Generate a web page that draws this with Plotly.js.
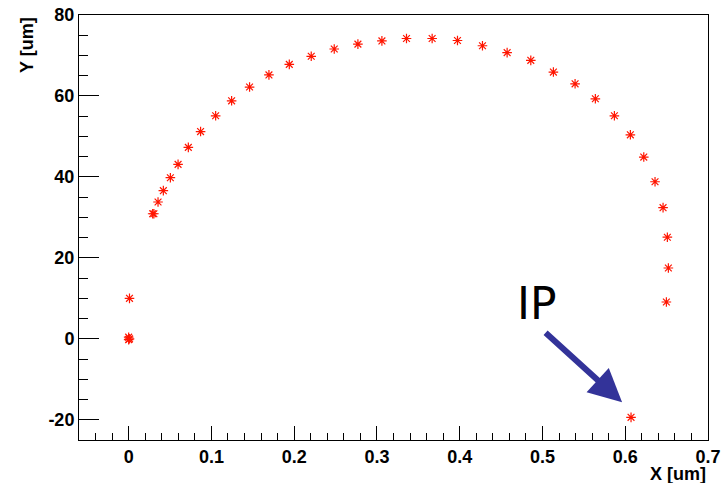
<!DOCTYPE html>
<html>
<head>
<meta charset="utf-8">
<script src="https://cdn.plot.ly/plotly-3.0.1.min.js"></script>
<style>html,body{margin:0;padding:0;background:#fff;}#chart{width:722px;height:483px;}</style>
</head>
<body>
<div id="chart"></div>
<script>
// Track points (X in um, Y in um)
const xVals = [0.000, 0.000, 0.001, 0.001, 0.0290, 0.0305, 0.0355, 0.0419, 0.0504, 0.0597, 0.0721, 0.0869,
  0.1051, 0.1244, 0.1461, 0.1695, 0.1941, 0.2206, 0.2484, 0.2770, 0.3060, 0.3357, 0.3667,
  0.3973, 0.4275, 0.4573, 0.4859, 0.5132, 0.5394, 0.5639, 0.5869, 0.6062, 0.6224, 0.6360,
  0.6457, 0.6509, 0.6521, 0.6497, 0.6070];
const yVals = [0.4, -0.2, 0.0, 10.0, 30.9, 30.9, 33.8, 36.6, 39.8, 43.1, 47.3, 51.2,
  55.1, 58.8, 62.2, 65.2, 67.8, 69.8, 71.6, 72.8, 73.6, 74.2, 74.2,
  73.7, 72.4, 70.7, 68.8, 65.9, 63.0, 59.3, 55.1, 50.4, 44.9, 38.8,
  32.4, 25.1, 17.5, 9.1, -19.4];

const xTickVals = [0, 0.1, 0.2, 0.3, 0.4, 0.5, 0.6, 0.7];
const xTickText = ['0', '0.1', '0.2', '0.3', '0.4', '0.5', '0.6', '0.7'];
const yTickVals = [-20, 0, 20, 40, 60, 80];
const yTickText = ['-20', '0', '20', '40', '60', '80'];

const xTitle = 'X [um]';
const yTitle = 'Y [um]';
const ipLabel = 'IP';
const ipPoint = {x: 0.5962, y: -15.7};

const tickFont = {family: 'Liberation Sans, Arial, sans-serif', size: 18, color: '#000', weight: 'bold'};

const trace = {
  x: xVals, y: yVals, type: 'scatter', mode: 'markers',
  marker: {symbol: 'asterisk-open', size: 8, color: '#ff1500', line: {color: '#ff1500', width: 1.2}},
  hoverinfo: 'x+y'
};

const layout = {
  width: 722, height: 483,
  margin: {l: 79, r: 14, t: 15, b: 43},
  paper_bgcolor: '#fff', plot_bgcolor: '#fff',
  showlegend: false,
  xaxis: {
    range: [-0.06, 0.7], tickmode: 'array', tickvals: xTickVals, ticktext: xTickText,
    ticks: 'inside', ticklen: 14, tickwidth: 1, tickcolor: '#000',
    minor: {tickmode: 'linear', tick0: 0, dtick: 0.02, ticks: 'inside', ticklen: 7, tickwidth: 1, tickcolor: '#000', showgrid: false},
    showline: true, linecolor: '#000', linewidth: 1, mirror: true,
    showgrid: false, zeroline: false, tickfont: tickFont
  },
  yaxis: {
    range: [-25, 80], tickmode: 'array', tickvals: yTickVals, ticktext: yTickText,
    ticks: 'inside', ticklen: 20, tickwidth: 1, tickcolor: '#000',
    minor: {tickmode: 'linear', tick0: 0, dtick: 5, ticks: 'inside', ticklen: 9, tickwidth: 1, tickcolor: '#000', showgrid: false},
    showline: true, linecolor: '#000', linewidth: 1, mirror: true,
    showgrid: false, zeroline: false, tickfont: tickFont
  },
  annotations: [
    {xref: 'paper', yref: 'paper', x: 1, y: 0, xanchor: 'right', yanchor: 'top', yshift: -22,
     text: xTitle, showarrow: false, font: tickFont},
    {xref: 'paper', yref: 'paper', x: 0, y: 1, xanchor: 'right', yanchor: 'top', xshift: -40,
     text: yTitle, textangle: -90, showarrow: false, font: tickFont},
    {xref: 'x', yref: 'y', x: 0.4929, y: 8.8, text: ipLabel, showarrow: false,
     font: {family: 'DejaVu Sans, sans-serif', size: 44, color: '#000'}},
    {xref: 'x', yref: 'y', x: ipPoint.x, y: ipPoint.y, ax: -78, ay: -71, text: '',
     showarrow: true, arrowhead: 2, arrowsize: 1.1, arrowwidth: 6, arrowcolor: '#333399', standoff: 0}
  ]
};

Plotly.newPlot('chart', [trace], layout, {displayModeBar: false, staticPlot: true});
</script>
</body>
</html>
